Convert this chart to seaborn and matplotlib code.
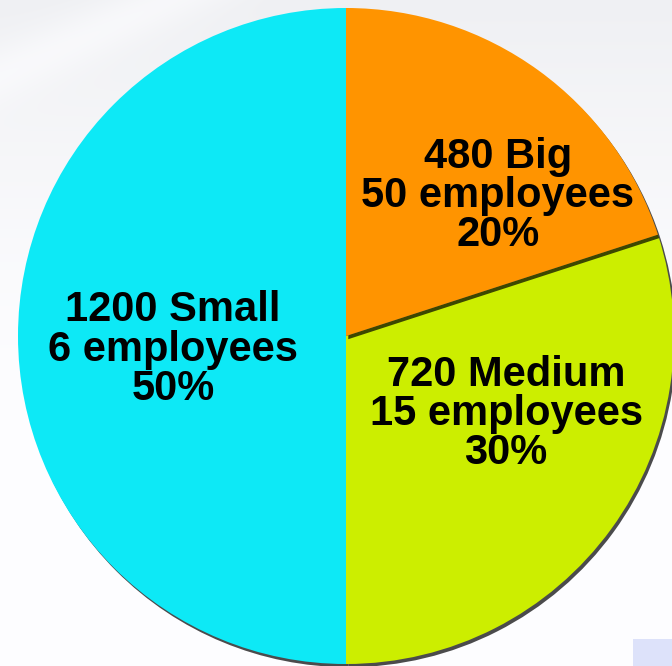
import numpy as np
import matplotlib
matplotlib.use("Agg")
import matplotlib.pyplot as plt
from matplotlib.patches import Shadow, Rectangle
import seaborn as sns

# ---- data ----
categories = ["Big", "Medium", "Small"]
counts = [480, 720, 1200]
employees = [50, 15, 6]
colors = ["#FF9400", "#CCEE00", "#0DE9F6"]

sns.set_theme(style="white")
plt.rcParams["font.family"] = ["Liberation Sans", "DejaVu Sans"]

W, H, DPI = 672, 666, 100
fig = plt.figure(figsize=(W / DPI, H / DPI), dpi=DPI, facecolor="white")

# background gradient
bg = fig.add_axes([0, 0, 1, 1], zorder=0)
yy, xx = np.mgrid[0:H, 0:W]
t = np.clip(1 - yy / 420.0, 0, 1) ** 1.5
streak = np.exp(-((yy + 0.45 * xx - 75) / 30.0) ** 2) * (xx < 450)
base = np.array([253, 253, 255], float)
grey = np.array([239, 240, 243], float)
img = base[None, None, :] * (1 - t[..., None]) + grey[None, None, :] * t[..., None]
img = img + (base - img) * (0.6 * streak[..., None])
bg.imshow(img.astype(np.uint8), extent=[0, W, H, 0], aspect="auto")
bg.add_patch(Rectangle((633, 639), W - 633, H - 639, color="#DDE2FA", lw=0))
bg.set_xlim(0, W)
bg.set_ylim(H, 0)
bg.axis("off")

# pie axes
cx, cy, r = 346, 666 - 336, 328
ax = fig.add_axes([(cx - r) / W, (cy - r) / H, 2 * r / W, 2 * r / H], zorder=1)
ax.patch.set_alpha(0)
wedges, _ = ax.pie(counts, colors=colors, startangle=90, counterclock=False,
                   radius=1.0, wedgeprops=dict(linewidth=0))
ax.set_xlim(-1, 1)
ax.set_ylim(-1, 1)
ax.set_aspect("equal")
ax.axis("off")

# shadows
z_order = {"Small": 2, "Medium": 2, "Big": 4}
for w, cat in zip(wedges, categories):
    z = z_order[cat]
    w.set_zorder(z)
    s = Shadow(w, 0.005, -0.007, facecolor="black", alpha=0.7, lw=0)
    s.set_zorder(z - 1)
    ax.add_patch(s)

# labels
total = sum(counts)
label_pos = {"Big": (0.463, 0.427), "Medium": (0.488, -0.238), "Small": (-0.527, -0.042)}
for cat, c, e in zip(categories, counts, employees):
    pct = round(100 * c / total)
    txt = f"{c} {cat}\n{e} employees\n{pct}%"
    x, y = label_pos[cat]
    ax.text(x, y, txt, ha="center", va="center", fontsize=30, fontweight="bold",
            color="black", linespacing=0.98, zorder=10, multialignment="center")

fig.savefig("out.png", dpi=DPI)
